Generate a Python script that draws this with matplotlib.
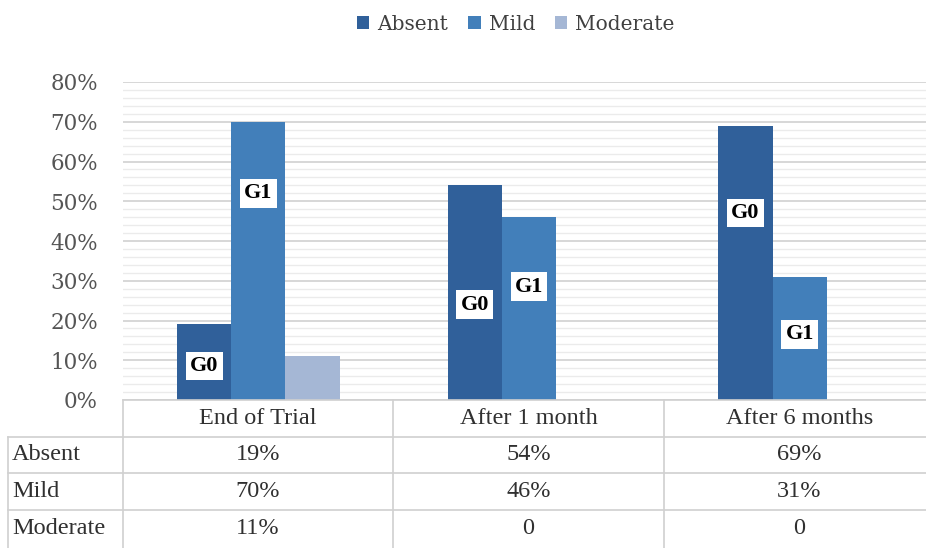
import numpy as np
import matplotlib.pyplot as plt
from matplotlib.ticker import MultipleLocator, PercentFormatter

# data
categories = ['End of Trial', 'After 1 month', 'After 6 months']
series = ['Absent', 'Mild', 'Moderate']
absent = [19, 54, 69]
mild = [70, 46, 31]
moderate = [11, 0, 0]
colors = ['#30609A', '#427FBA', '#A5B7D5']

# G0 / G1 label boxes: (series index, category index, text, height in %)
grade_labels = [(0, 0, 'G0', 8.5), (1, 0, 'G1', 52),
                (0, 1, 'G0', 24), (1, 1, 'G1', 28.5),
                (0, 2, 'G0', 47), (1, 2, 'G1', 16.5)]

W, H = 926, 548
fig = plt.figure(figsize=(W / 100, H / 100), dpi=100)
serif = 'Liberation Serif'
grey = '#555555'

# plot area in pixels (right edge runs past the image like the reference crop)
x0, x1, ytop, ybot = 123, 935, 82, 400
ax = fig.add_axes([x0 / W, 1 - ybot / H, (x1 - x0) / W, (ybot - ytop) / H])

vals = [absent, mild, moderate]
x = np.arange(len(categories))
bw = 0.2
for i, (name, v) in enumerate(zip(series, vals)):
    ax.bar(x + (i - 1) * bw, v, bw, color=colors[i], label=name, zorder=3)

for si, ci, txt, h in grade_labels:
    ax.text(x[ci] + (si - 1) * bw, h, txt, ha='center', va='center',
            fontsize=16, fontweight='bold', family=serif, color='black', zorder=5,
            bbox=dict(facecolor='white', edgecolor='none', pad=3))

ax.set_xlim(-0.5, 2.5)
ax.set_ylim(0, 80)
ax.yaxis.set_major_locator(MultipleLocator(10))
ax.yaxis.set_minor_locator(MultipleLocator(2))
ax.yaxis.set_major_formatter(PercentFormatter(decimals=0))
ax.grid(axis='y', which='major', color='#D4D4D4', lw=1.3, zorder=0)
ax.grid(axis='y', which='minor', color='#EBEBEB', lw=1.0, zorder=0)
ax.tick_params(axis='y', which='both', length=0, labelsize=15.5, labelcolor=grey, pad=18)
ax.tick_params(axis='x', which='both', length=0, labelbottom=False)
for lab in ax.get_yticklabels():
    lab.set_family('DejaVu Serif')
for s in ax.spines.values():
    s.set_visible(False)

leg = fig.legend(loc='center', bbox_to_anchor=(516 / W, 1 - 24 / H), ncol=3, frameon=False,
                 handlelength=0.6, handleheight=0.6, handletextpad=0.4, columnspacing=1.0,
                 prop={'family': 'DejaVu Serif', 'size': 14.5})
for t in leg.get_texts():
    t.set_color('#404040')

# data table below the chart (pixel coordinates)
tab = fig.add_axes([0, 0, 1, 1])
tab.set_xlim(0, W)
tab.set_ylim(H, 0)
tab.axis('off')
line_c = '#D0D0D0'
col_edges = [8, 123, 393, 664, 935]
row_edges = [400, 437, 473, 510, 548]
tab.plot([x0, W], [400, 400], color=line_c, lw=1.2)
for yy in row_edges[1:-1]:
    tab.plot([8, W], [yy, yy], color=line_c, lw=1.2)
tab.plot([8, 8], [437, H], color=line_c, lw=1.2)
for xx in col_edges[1:-1]:
    tab.plot([xx, xx], [400, H], color=line_c, lw=1.2)

tcol = '#303030'
for j, c in enumerate(categories):
    cx = (col_edges[j + 1] + col_edges[j + 2]) / 2
    tab.text(cx, 418, c, ha='center', va='center', fontsize=17.5, family=serif, color=tcol)
for i, name in enumerate(series):
    cy = (row_edges[i + 1] + row_edges[i + 2]) / 2
    tab.text(12, cy, name, ha='left', va='center', fontsize=17.5, family=serif, color=tcol)
    for j, v in enumerate(vals[i]):
        cx = (col_edges[j + 1] + col_edges[j + 2]) / 2
        tab.text(cx, cy, f'{v}%' if v else '0', ha='center', va='center',
                 fontsize=17.5, family=serif, color=tcol)

fig.savefig('out.png', dpi=100)
